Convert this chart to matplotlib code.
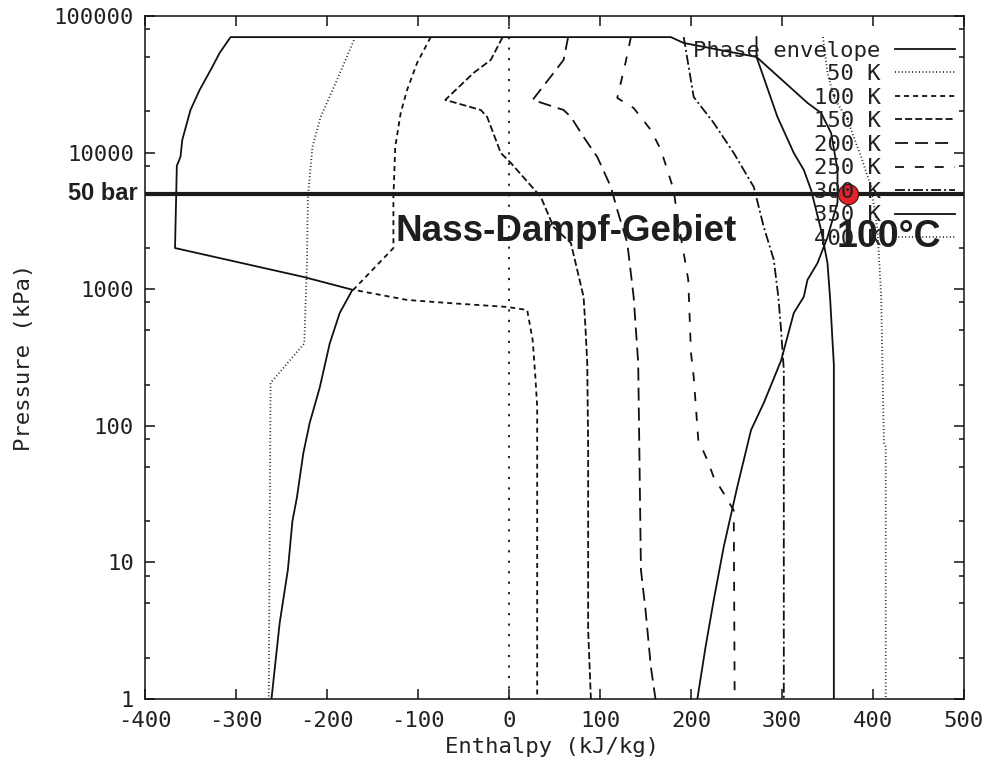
import matplotlib.pyplot as plt
from matplotlib.ticker import FixedLocator, FixedFormatter, LogLocator, NullFormatter, NullLocator

# enthalpy (kJ/kg) and pressure (kPa) along the phase envelope
env_h = [-261, -252, -243, -238, -233, -226, -219, -208, -197, -186, -172, -226, -367, -365, -361,
         -359, -350, -340, -326, -318, -306, 178, 192, 272, 328, 343, 354, 361, 361, 350, 339,
         328, 324, 313, 299, 280, 266, 251, 236, 225, 216, 207]
env_p = [1, 3.6, 8.8, 20, 30, 63, 105, 190, 400, 670, 990, 1230, 2000, 8000, 9300,
         12400, 20500, 28700, 42400, 53600, 70000, 70000, 63400, 50100, 23100, 19500, 13900, 7500, 4300, 2400, 1550,
         1170, 880, 670, 300, 147, 93, 36, 13, 5.3, 2.4, 1]

# isotherms
t50_h = [-169, -189, -207, -216, -221, -222, -225, -262, -264]
t50_p = [70000, 34000, 18200, 11000, 4700, 1550, 400, 206, 1]

t100_h = [-86, -101, -112, -119, -125, -127, -127, -171, -112, -67, -2, 20, 26, 29, 31, 31]
t100_p = [70000, 45300, 28700, 19500, 11000, 4730, 2000, 990, 834, 792, 741, 704, 425, 228, 137, 1]

t150_h = [-7, -20, -39, -70, -31, -24, -9, 2, 35, 49, 68, 82, 84, 86, 87, 87, 90]
t150_p = [70000, 47650, 38250, 24300, 20500, 18240, 9930, 8400, 4730, 2850, 2180, 877, 529, 288, 70, 3.2, 1]

t200_h = [65, 60, 49, 26, 60, 68, 82, 97, 112, 119, 130, 137, 142, 145, 150, 156, 161]
t200_p = [70000, 47650, 38250, 24300, 20500, 18240, 13000, 9290, 5600, 3800, 2180, 877, 288, 8.8, 4.5, 1.7, 1]

t250_h = [134, 128, 119, 137, 156, 167, 174, 181, 185, 192, 197, 200, 203, 208, 218, 225, 236, 247, 248]
t250_p = [70000, 45300, 25100, 21200, 14600, 10440, 7460, 5320, 3380, 1840, 1170, 341, 228, 79, 56, 42, 32, 24, 1]

t300_h = [192, 203, 225, 247, 269, 280, 291, 296, 299, 302, 302]
t300_p = [70000, 25500, 16480, 9930, 5600, 2850, 1640, 877, 503, 256, 1]

t350_h = [272, 272, 277, 295, 313, 324, 332, 343, 350, 353, 357, 357]
t350_p = [70000, 50100, 40300, 18240, 9930, 7460, 5320, 2710, 1555, 834, 279, 1]

t400_h = [345, 350, 357, 372, 387, 398, 405, 409, 412, 414, 414]
t400_p = [70000, 38250, 25500, 17300, 9290, 5600, 2710, 877, 75, 70, 1]

labels = ['Phase envelope', '50 K', '100 K', '150 K', '200 K', '250 K', '300 K', '350 K', '400 K']

x_ticks = [-400, -300, -200, -100, 0, 100, 200, 300, 400, 500]
x_labels = ['-400', '-300', '-200', '-100', '0', '100', '200', '300', '400', '500']
y_ticks = [1, 10, 100, 1000, 10000, 100000]
y_labels = ['1', '10', '100', '1000', '10000', '100000']

p_50bar = 5000      # kPa
h_100c = 373        # kJ/kg, saturated point at 50 bar

mono = 'DejaVu Sans Mono'
fs = 16
ink = '#111111'
grey = '#222222'

fig = plt.figure(figsize=(9.89, 7.6), dpi=100)
ax = fig.add_axes([0.1466, 0.0803, 0.8281, 0.8987])

curves = [
    (env_h, env_p, '-'),
    (t50_h, t50_p, (0, (0.5, 1.4))),
    (t100_h, t100_p, (0, (2.8, 2.2))),
    (t150_h, t150_p, (0, (3.9, 1.7))),
    (t200_h, t200_p, (0, (7.2, 3.9))),
    (t250_h, t250_p, (0, (5, 6))),
    (t300_h, t300_p, (0, (5.5, 1.7, 1.1, 1.7))),
    (t350_h, t350_p, '-'),
    (t400_h, t400_p, (0, (0.5, 1.4))),
]
for (h, p, ls), lab in zip(curves, labels):
    ax.plot(h, p, color=ink, lw=1.3, ls=ls, label=lab, zorder=3)

# zero line on the enthalpy axis
ax.axvline(0, color=ink, lw=1.3, ls=(0, (1.2, 4.6)), zorder=2)

ax.set_yscale('log')
ax.set_xlim(-400, 500)
ax.set_ylim(1, 100000)

ax.xaxis.set_major_locator(FixedLocator(x_ticks))
ax.xaxis.set_major_formatter(FixedFormatter(x_labels))
ax.xaxis.set_minor_locator(NullLocator())
ax.yaxis.set_major_locator(FixedLocator(y_ticks))
ax.yaxis.set_major_formatter(FixedFormatter(y_labels))
ax.yaxis.set_minor_locator(LogLocator(base=10, subs=(2, 5, 8)))
ax.yaxis.set_minor_formatter(NullFormatter())

ax.tick_params(which='both', direction='in', top=True, right=True, width=1.1, color=ink)
ax.tick_params(which='major', length=7.2, labelsize=fs, labelcolor=grey)
ax.tick_params(axis='x', which='major', pad=9)
ax.tick_params(axis='y', which='major', pad=8)
ax.tick_params(which='minor', length=3.6)
for lbl in ax.get_xticklabels() + ax.get_yticklabels():
    lbl.set_family(mono)
for s in ax.spines.values():
    s.set_linewidth(1.1)
    s.set_color(ink)

ax.set_xlabel('Enthalpy (kJ/kg)', family=mono, fontsize=fs, color=grey)
ax.set_ylabel('Pressure (kPa)', family=mono, fontsize=fs, color=grey)
ax.xaxis.set_label_coords(0.497, -0.056)
ax.yaxis.set_label_coords(-0.136, 0.5)

leg = ax.legend(loc='upper right', bbox_to_anchor=(0.989, 0.964), markerfirst=False, frameon=False,
                prop={'family': mono, 'size': fs}, handlelength=2.7, handletextpad=0.65,
                labelspacing=0.16, borderpad=0, borderaxespad=0)
for t in leg.get_texts():
    t.set_color(grey)

# 50 bar isobar with the 100 °C point
ax.axhline(p_50bar, color='#1b1b1b', lw=3.0, zorder=4)
ax.plot([h_100c], [p_50bar], 'o', ms=14.5, mfc='#e8222a', mec='#3a1010', mew=0.8, zorder=5)
ax.annotate('50 bar', xy=(-400, p_50bar), xytext=(-5, 0), textcoords='offset points',
            ha='right', va='center', fontsize=17, fontweight='bold', family='Liberation Sans',
            color='#1e1e1e', annotation_clip=False)

ax.text(-125, 2250, 'Nass-Dampf-Gebiet', fontsize=26.5, fontweight='bold', family='Liberation Sans',
        ha='left', va='baseline', color='#1e1e1e', zorder=6)
ax.text(360, 2040, '100°C', fontsize=27, fontweight='bold', family='Liberation Sans',
        ha='left', va='baseline', color='#1e1e1e', zorder=6)

fig.savefig('out.png', dpi=100)
